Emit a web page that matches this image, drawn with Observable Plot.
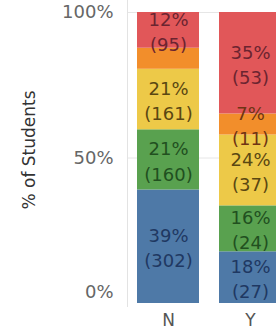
<!DOCTYPE html>
<html><head><meta charset="utf-8">
<script src="https://cdn.jsdelivr.net/npm/d3@7"></script>
<script src="https://cdn.jsdelivr.net/npm/@observablehq/plot@0.6"></script>
<style>html,body{margin:0;padding:0;background:#fff;overflow:hidden}#chart{width:276px;height:332px;overflow:hidden}</style>
</head><body><div id="chart"></div>
<script>
// Data (series listed bottom to top of each stacked bar)
const categories = ["N", "Y"];
const series = ["Level 1", "Level 2", "Level 3", "Level 4", "Level 5"];
const countsN = [302, 160, 161, 56, 95];
const countsY = [27, 24, 37, 11, 53];
const hiddenLabels = [["N", "Level 4"]];
const yTicks = [0, 0.5, 1];
const yTickLabels = ["0%", "50%", "100%"];
const yTitle = "% of Students";

// Palette
const fills = ["#4e79a7", "#59a14f", "#edc948", "#f28e2b", "#e15759"];
const inks = ["#1f3862", "#21501f", "#5a4712", "#6f3414", "#6b2430"];

const countsBy = {N: countsN, Y: countsY};
const rows = [];
for (const c of categories) {
  const vals = countsBy[c];
  const total = d3.sum(vals);
  series.forEach((s, i) => rows.push({category: c, series: s, count: vals[i], pct: vals[i] / total}));
}
const ticks = yTicks.map((v, i) => ({v, label: yTickLabels[i]}));
const isHidden = d => hiddenLabels.some(([c, s]) => c === d.category && s === d.series);
const FONT = "DejaVu Sans";

const labelMarks = series.map((s, i) =>
  Plot.text(rows, Plot.stackY({
    offset: "normalize", x: "category", y: "count",
    text: d => (d.series === s && !isHidden(d)) ? `${Math.round(d.pct * 100)}%\n(${d.count})` : null,
    fill: inks[i], fontSize: 18, lineHeight: 1.4, clip: true
  }))
);

const plot = Plot.plot({
  width: 276, height: 332,
  marginLeft: 127, marginRight: 0, marginTop: 12, marginBottom: 29,
  style: {fontFamily: FONT, overflow: "hidden", maxWidth: "none", background: "#fff"},
  x: {domain: categories, range: [127, 291], paddingInner: 0.244, paddingOuter: 0.122},
  y: {domain: [0, 1], axis: null},
  color: {domain: series, range: fills},
  marks: [
    Plot.ruleY([0.5, 1], {stroke: "#e6e6e6"}),
    Plot.ruleX(["N"], {dx: -41, stroke: "#e3e3e3", insetTop: -12, insetBottom: -4}),
    Plot.barY(rows, Plot.stackY({offset: "normalize", x: "category", y: "count", fill: "series"})),
    ...labelMarks,
    Plot.text(ticks, {y: "v", text: d => d.v > 0 ? d.label : null, frameAnchor: "left", dx: -14, textAnchor: "end", fill: "#666", fontSize: 18}),
    Plot.text(ticks, {y: "v", text: d => d.v === 0 ? d.label : null, frameAnchor: "left", dx: -14, dy: -11, textAnchor: "end", fill: "#666", fontSize: 18}),
    Plot.text([yTitle], {frameAnchor: "left", dx: -98, dy: -8, rotate: -90, textAnchor: "middle", fill: "#333", fontSize: 17}),
    Plot.axisX({tickSize: 0, tickPadding: 10, fontSize: 17, fill: "#555", label: null})
  ]
});
document.getElementById("chart").append(plot);
</script>
</body></html>
